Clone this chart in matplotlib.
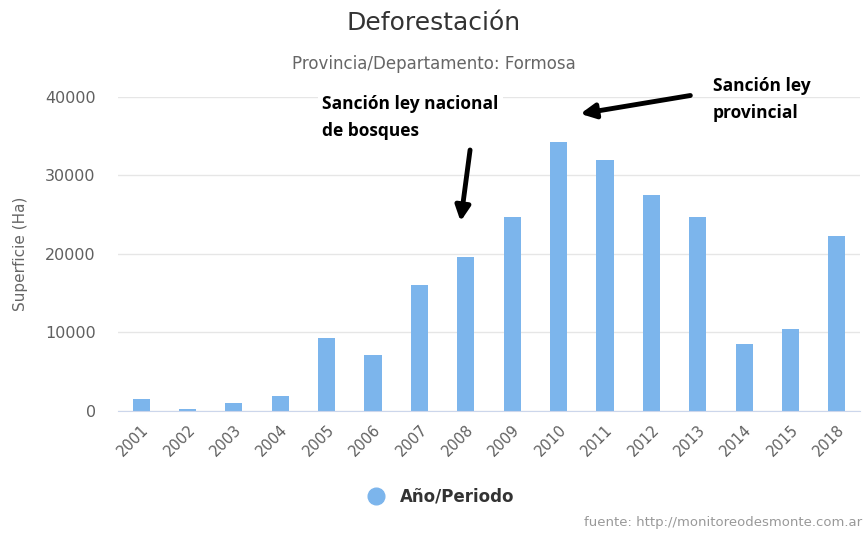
import numpy as np
import matplotlib.pyplot as plt
from matplotlib.lines import Line2D

years = ['2001', '2002', '2003', '2004', '2005', '2006', '2007', '2008',
         '2009', '2010', '2011', '2012', '2013', '2014', '2015', '2018']
superficie = [1500, 250, 1000, 1900, 9300, 7100, 16000, 19600,
              24700, 34300, 32000, 27500, 24700, 8500, 10400, 22300]
yticks = [0, 10000, 20000, 30000, 40000]

bar_color = '#7cb5ec'

fig = plt.figure(figsize=(8.67, 5.33), dpi=100)
ax = fig.add_axes([0.136, 0.229, 0.856, 0.589])

x = np.arange(len(years))
ax.bar(x, superficie, width=0.37, color=bar_color, zorder=2)

ax.set_xlim(-0.5, len(years) - 0.5)
ax.set_ylim(0, 40000)
ax.set_yticks(yticks)
ax.set_yticklabels([str(v) for v in yticks], color='#606060', fontsize=11.5)
ax.set_xticks(x)
ax.set_xticklabels(years, rotation=45, ha='right', rotation_mode='anchor',
                   color='#606060', fontsize=10.5)
ax.tick_params(axis='y', length=0, pad=16)
ax.tick_params(axis='x', length=0, pad=8)
ax.grid(axis='y', color='#e6e6e6', linewidth=1, zorder=0)
for s in ['top', 'right', 'left']:
    ax.spines[s].set_visible(False)
ax.spines['bottom'].set_color('#ccd6eb')
ax.set_ylabel('Superficie (Ha)', color='#666666', fontsize=11, labelpad=12)

fig.text(0.5, 0.957, 'Deforestación', ha='center', va='center',
         fontsize=18, color='#333333')
fig.text(0.5, 0.88, 'Provincia/Departamento: Formosa', ha='center', va='center',
         fontsize=12, color='#666666')

# annotations
ax.text(3.9, 40250, 'Sanción ley nacional\nde bosques', ha='left', va='top',
        fontsize=12.5, fontweight='bold', color='black', linespacing=1.65,
        family='Open Sans',
        bbox=dict(facecolor='white', edgecolor='none', pad=3), zorder=3)
ax.annotate('', xy=(6.88, 23800), xytext=(7.1, 33600),
            arrowprops=dict(arrowstyle='-|>', color='black', lw=3.5,
                            mutation_scale=22), zorder=4)
ax.annotate('', xy=(9.41, 37800), xytext=(11.9, 40250),
            arrowprops=dict(arrowstyle='-|>', color='black', lw=3.5,
                            mutation_scale=22), zorder=4, annotation_clip=False)
ax.text(12.32, 42600, 'Sanción ley\nprovincial', ha='left', va='top',
        fontsize=12.5, fontweight='bold', color='black', linespacing=1.65,
        family='Open Sans', zorder=3)

# legend
handle = Line2D([], [], marker='o', linestyle='none', markersize=12,
                markerfacecolor=bar_color, markeredgecolor=bar_color)
leg = fig.legend([handle], ['Año/Periodo'], loc='center', bbox_to_anchor=(0.504, 0.068),
                 frameon=False, handletextpad=0.4, prop={'weight': 'bold', 'size': 12})
for t in leg.get_texts():
    t.set_color('#333333')

fig.text(0.994, 0.02, 'fuente: http://monitoreodesmonte.com.ar', ha='right',
         va='center', fontsize=9.5, color='#999999')

fig.savefig('out.png', dpi=100)
